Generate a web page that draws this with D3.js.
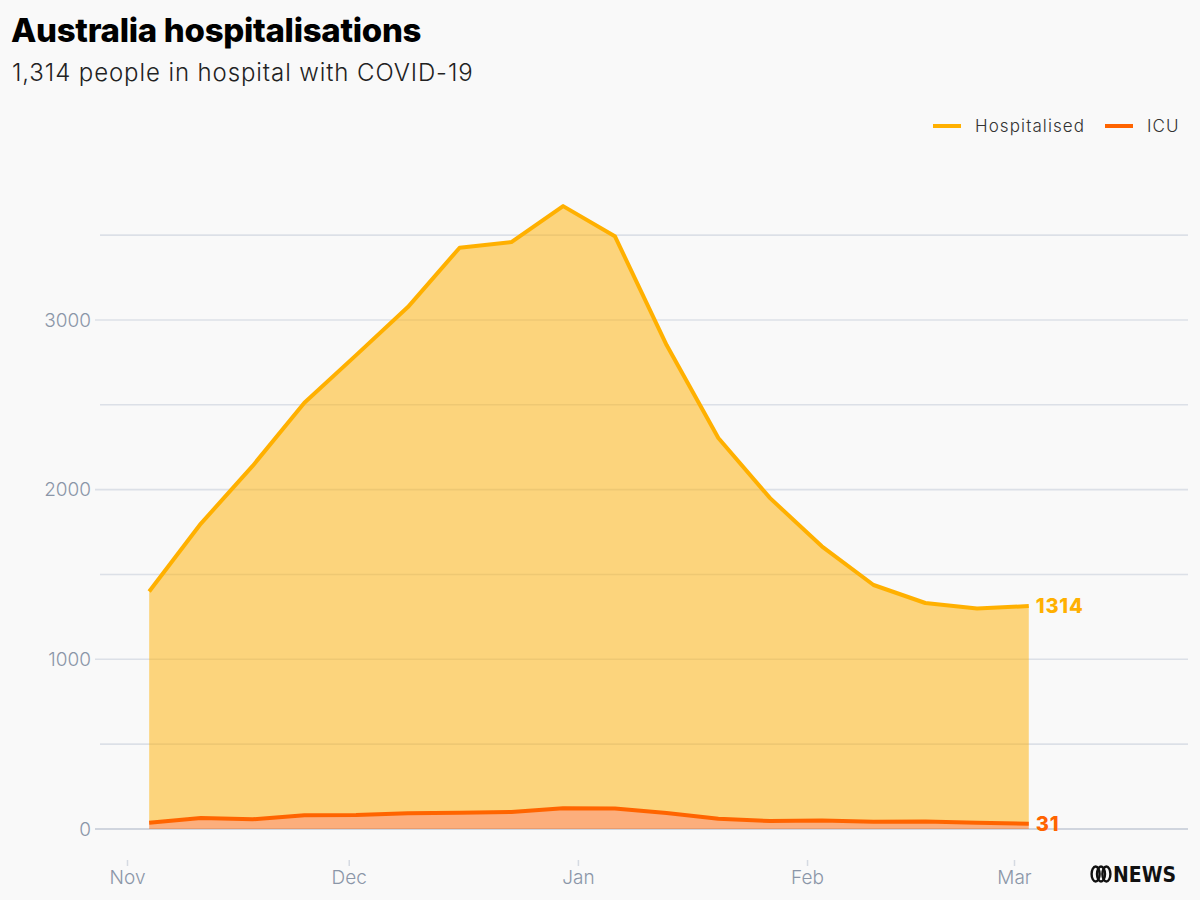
<!DOCTYPE html>
<html>
<head>
<meta charset="utf-8">
<script src="https://cdn.jsdelivr.net/npm/d3@7"></script>
<style>
  body { margin: 0; background: #f9f9f9; }
  svg { display: block; font-family: Inter, "Noto Sans", sans-serif; }
</style>
</head>
<body>
<div id="chart"></div>
<script>
// weekly reporting dates (Fridays)
const dates = ['2022-11-04', '2022-11-11', '2022-11-18', '2022-11-25', '2022-12-02', '2022-12-09',
    '2022-12-16', '2022-12-23', '2022-12-30', '2023-01-06', '2023-01-13', '2023-01-20',
    '2023-01-27', '2023-02-03', '2023-02-10', '2023-02-17', '2023-02-24', '2023-03-03'];
const hospitalised = [1400, 1800, 2140, 2512, 2793, 3076, 3426, 3459, 3671, 3494, 2852, 2304,
    1950, 1666, 1438, 1332, 1300, 1314];
const icu = [37, 65, 57, 81, 83, 93, 96, 100, 122, 121, 94, 61, 47, 50, 42, 44, 37, 31];
const monthTicks = ['2022-11-01', '2022-12-01', '2023-01-01', '2023-02-01', '2023-03-01'];
const yTicks = [0, 500, 1000, 1500, 2000, 2500, 3000, 3500];

const hospColor = '#ffb000';
const icuColor = '#ff6400';

const width = 1200;
const height = 900;

const parseTime = d3.timeParse('%Y-%m-%d');
const rows = dates.map((d, i) => ({
    date: parseTime(d),
    hosp: hospitalised[i],
    icu: icu[i]
}));

const svg = d3.select('#chart')
    .append('svg')
    .attr('width', width)
    .attr('height', height);

svg.append('rect')
    .attr('width', width)
    .attr('height', height)
    .attr('fill', '#f9f9f9');

const xScale = d3.scaleTime()
    .domain([parseTime(monthTicks[0]), parseTime(monthTicks[4])])
    .range([127, 1014]);

const yScale = d3.scaleLinear()
    .domain([0, 3700])
    .range([829, 201.2]);

// title block
svg.append('text')
    .attr('x', 11)
    .attr('y', 42)
    .style('font-size', '33px')
    .style('font-weight', 800)
    .style('letter-spacing', '-0.3px')
    .attr('fill', '#000')
    .text('Australia hospitalisations');

svg.append('text')
    .attr('x', 12)
    .attr('y', 81)
    .style('font-size', '24px')
    .style('font-weight', 300)
    .style('letter-spacing', '0.9px')
    .attr('fill', '#222')
    .text('1,314 people in hospital with COVID-19');

// gridlines + y labels
const grid = svg.append('g');
grid.selectAll('line')
    .data(yTicks)
    .enter()
    .append('line')
    .attr('x1', d => d % 1000 === 0 ? 95 : 100)
    .attr('x2', 1188)
    .attr('y1', d => yScale(d))
    .attr('y2', d => yScale(d))
    .attr('stroke', d => d === 0 ? '#d0d5de' : '#dce0e7')
    .attr('stroke-width', d => d === 0 ? 2 : 1.6);

grid.selectAll('text')
    .data(yTicks.filter(d => d % 1000 === 0))
    .enter()
    .append('text')
    .attr('x', 91)
    .attr('y', d => yScale(d))
    .attr('dy', '0.36em')
    .attr('text-anchor', 'end')
    .style('font-size', '19px')
    .style('font-weight', 300)
    .attr('fill', '#8b96a8')
    .text(d => d);

// areas
const hospArea = d3.area()
    .x(d => xScale(d.date))
    .y0(d => yScale(d.icu))
    .y1(d => yScale(d.hosp));

const icuArea = d3.area()
    .x(d => xScale(d.date))
    .y0(yScale(0))
    .y1(d => yScale(d.icu));

svg.append('path')
    .datum(rows)
    .attr('d', hospArea)
    .attr('fill', hospColor)
    .attr('fill-opacity', 0.5);

svg.append('path')
    .datum(rows)
    .attr('d', icuArea)
    .attr('fill', icuColor)
    .attr('fill-opacity', 0.5);

// lines
const hospLine = d3.line()
    .x(d => xScale(d.date))
    .y(d => yScale(d.hosp));

const icuLine = d3.line()
    .x(d => xScale(d.date))
    .y(d => yScale(d.icu));

svg.append('path')
    .datum(rows)
    .attr('d', hospLine)
    .attr('fill', 'none')
    .attr('stroke', hospColor)
    .attr('stroke-width', 4)
    .attr('stroke-linejoin', 'round');

svg.append('path')
    .datum(rows)
    .attr('d', icuLine)
    .attr('fill', 'none')
    .attr('stroke', icuColor)
    .attr('stroke-width', 4)
    .attr('stroke-linejoin', 'round');

// end labels
const last = rows[rows.length - 1];
svg.append('text')
    .attr('x', xScale(last.date) + 7)
    .attr('y', yScale(last.hosp))
    .attr('dy', '0.36em')
    .style('font-size', '20px')
    .style('font-weight', 800)
    .style('letter-spacing', '0.8px')
    .attr('fill', hospColor)
    .text(last.hosp);

svg.append('text')
    .attr('x', xScale(last.date) + 7)
    .attr('y', yScale(last.icu))
    .attr('dy', '0.36em')
    .style('font-size', '20px')
    .style('font-weight', 800)
    .style('letter-spacing', '0.8px')
    .attr('fill', icuColor)
    .text(last.icu);

// x axis
const xAxis = svg.append('g')
    .attr('transform', 'translate(0, 860)')
    .call(d3.axisBottom(xScale)
        .tickValues(monthTicks.map(parseTime))
        .tickFormat(d3.timeFormat('%b'))
        .tickSize(6)
        .tickPadding(5));

xAxis.select('.domain').remove();
xAxis.selectAll('.tick line')
    .attr('stroke', '#d5dae2')
    .attr('stroke-width', 1.5);
xAxis.selectAll('.tick text')
    .attr('fill', '#8b96a8')
    .style('font-family', 'Inter, "Noto Sans", sans-serif')
    .style('font-size', '19px')
    .style('font-weight', 300);

// legend
const legendItems = [
    { label: 'Hospitalised', color: hospColor, x: 933 },
    { label: 'ICU', color: icuColor, x: 1105 }
];
const legend = svg.selectAll('.legend')
    .data(legendItems)
    .enter()
    .append('g')
    .attr('class', 'legend')
    .attr('transform', d => `translate(${d.x}, 126)`);

legend.append('line')
    .attr('x1', 0)
    .attr('x2', 28)
    .attr('stroke', d => d.color)
    .attr('stroke-width', 4);

legend.append('text')
    .attr('x', 42)
    .attr('dy', '0.36em')
    .style('font-size', '17px')
    .style('font-weight', 300)
    .style('letter-spacing', '1.1px')
    .attr('fill', '#333')
    .text(d => d.label);

// ABC NEWS mark
const logo = svg.append('g')
    .attr('transform', 'translate(1094, 874)');
[-6, 0, 6].forEach(dx => {
    logo.append('ellipse')
        .attr('cx', 7 + dx * 0.9)
        .attr('cy', 0)
        .attr('rx', 4)
        .attr('ry', 7.5)
        .attr('fill', 'none')
        .attr('stroke', '#111')
        .attr('stroke-width', 2.4);
});
logo.append('text')
    .attr('x', 19)
    .attr('y', 8)
    .attr('textLength', 63)
    .attr('lengthAdjust', 'spacingAndGlyphs')
    .style('font-family', '"Liberation Sans Narrow", "DejaVu Sans Condensed", sans-serif')
    .style('font-size', '22px')
    .style('font-weight', 700)
    .attr('fill', '#111')
    .text('NEWS');
</script>
</body>
</html>
